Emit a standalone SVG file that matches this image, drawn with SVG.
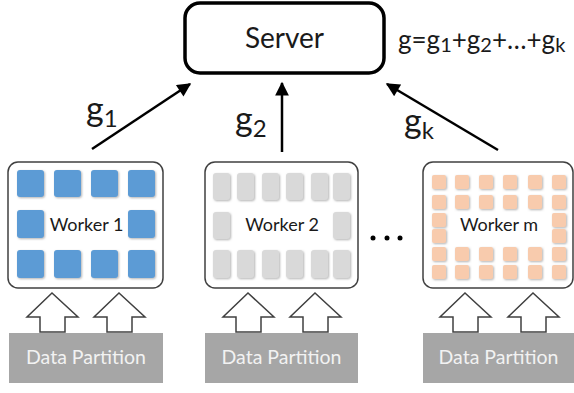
<svg xmlns="http://www.w3.org/2000/svg" width="574" height="393" viewBox="0 0 574 393">
<defs>
<style>
.txt{font-family:Lato,"Open Sans","Liberation Sans",sans-serif;fill:#1a1a1a}
.worker{fill:#fff;stroke:#404040;stroke-width:1.5}
.blue{fill:#5b9bd5}
.gray{fill:#d9d9d9}
.peach{fill:#f8cbad}
.hollow{fill:#fff;stroke:#404040;stroke-width:1.5;stroke-linejoin:miter}
.part{fill:#a6a6a6}
.ptxt{font-family:Lato,"Open Sans","Liberation Sans",sans-serif;fill:#f2f2f2;font-size:19.5px;text-anchor:middle}
.conn{stroke:#000;stroke-width:2.5;fill:none}
</style>
<marker id="ah" viewBox="0 0 10 10" refX="9" refY="5" markerWidth="6" markerHeight="5.5" orient="auto" markerUnits="strokeWidth">
<path d="M0,0 L10,5 L0,10 z" fill="#000"/>
</marker>
<filter id="sh" x="-20%" y="-20%" width="140%" height="140%">
<feGaussianBlur in="SourceAlpha" stdDeviation="1"/>
<feOffset dx="0.5" dy="0.5" result="b"/>
<feFlood flood-color="#808080" flood-opacity="0.6"/>
<feComposite in2="b" operator="in"/>
<feMerge><feMergeNode/><feMergeNode in="SourceGraphic"/></feMerge>
</filter>
</defs>
<rect width="574" height="393" fill="#fff"/>

<g id="server">
<rect x="185" y="3" width="199" height="70" rx="15" fill="#fff" stroke="#000" stroke-width="3.5"/>
<text class="txt" x="284.5" y="48" font-size="28" text-anchor="middle">Server</text>
</g>

<g id="formula">
<text class="txt" x="398" y="49" font-size="26">g=g<tspan font-size="20" dy="3">1</tspan><tspan dy="-3">+g</tspan><tspan font-size="20" dy="3">2</tspan><tspan dy="-3">+…+g</tspan><tspan font-size="20" dy="3">k</tspan></text>
</g>

<g id="connectors">
<line class="conn" x1="92" y1="149" x2="190" y2="84" marker-end="url(#ah)"/>
<line class="conn" x1="282" y1="152" x2="282" y2="83" marker-end="url(#ah)"/>
<line class="conn" x1="498" y1="150" x2="387" y2="84" marker-end="url(#ah)"/>
<text class="txt" x="86" y="121" font-size="34">g<tspan font-size="24" dy="6">1</tspan></text>
<text class="txt" x="235" y="131" font-size="34">g<tspan font-size="24" dy="6">2</tspan></text>
<text class="txt" x="404" y="133" font-size="34">g<tspan font-size="24" dy="6">k</tspan></text>
</g>

<g id="worker1">
<rect class="worker" x="8" y="162" width="155" height="126" rx="10"/>
<g class="blue" filter="url(#sh)">
<rect x="17" y="170" width="27" height="27" rx="3"/><rect x="54" y="170" width="27" height="27" rx="3"/><rect x="91" y="170" width="27" height="27" rx="3"/><rect x="128" y="170" width="27" height="27" rx="3"/>
<rect x="17" y="210" width="27" height="28" rx="3"/><rect x="128" y="210" width="27" height="28" rx="3"/>
<rect x="17" y="250" width="27" height="28" rx="3"/><rect x="54" y="250" width="27" height="28" rx="3"/><rect x="91" y="250" width="27" height="28" rx="3"/><rect x="128" y="250" width="27" height="28" rx="3"/>
</g>
<text class="txt" x="86.5" y="231" font-size="18" text-anchor="middle">Worker 1</text>
</g>

<g id="worker2">
<rect class="worker" x="205" y="162" width="153" height="126" rx="10"/>
<g class="gray" filter="url(#sh)">
<rect x="213" y="173" width="17" height="27" rx="3"/><rect x="237" y="173" width="17" height="27" rx="3"/><rect x="262" y="173" width="17" height="27" rx="3"/><rect x="286" y="173" width="17" height="27" rx="3"/><rect x="311" y="173" width="17" height="27" rx="3"/><rect x="333" y="173" width="17" height="27" rx="3"/>
<rect x="213" y="212" width="17" height="27" rx="3"/><rect x="333" y="212" width="17" height="27" rx="3"/>
<rect x="213" y="250" width="17" height="28" rx="3"/><rect x="237" y="250" width="17" height="28" rx="3"/><rect x="262" y="250" width="17" height="28" rx="3"/><rect x="286" y="250" width="17" height="28" rx="3"/><rect x="311" y="250" width="17" height="28" rx="3"/><rect x="333" y="250" width="17" height="28" rx="3"/>
</g>
<text class="txt" x="282" y="231" font-size="18" text-anchor="middle">Worker 2</text>
</g>

<g id="dots" fill="#000">
<circle cx="373" cy="238" r="2.5"/><circle cx="387" cy="238" r="2.5"/><circle cx="400" cy="238" r="2.5"/>
</g>

<g id="workerm">
<rect class="worker" x="423" y="162" width="150" height="126" rx="10"/>
<g class="peach" filter="url(#sh)">
<rect x="432" y="175" width="14" height="14" rx="2"/><rect x="455" y="175" width="14" height="14" rx="2"/><rect x="479" y="175" width="14" height="14" rx="2"/><rect x="503" y="175" width="14" height="14" rx="2"/><rect x="528" y="175" width="14" height="14" rx="2"/><rect x="552" y="175" width="14" height="14" rx="2"/>
<rect x="432" y="195" width="14" height="14" rx="2"/><rect x="455" y="195" width="14" height="14" rx="2"/><rect x="479" y="195" width="14" height="14" rx="2"/><rect x="503" y="195" width="14" height="14" rx="2"/><rect x="528" y="195" width="14" height="14" rx="2"/><rect x="552" y="195" width="14" height="14" rx="2"/>
<rect x="432" y="213" width="14" height="14" rx="2"/><rect x="552" y="213" width="14" height="14" rx="2"/>
<rect x="432" y="229" width="14" height="14" rx="2"/><rect x="552" y="229" width="14" height="14" rx="2"/>
<rect x="432" y="247" width="14" height="14" rx="2"/><rect x="455" y="247" width="14" height="14" rx="2"/><rect x="479" y="247" width="14" height="14" rx="2"/><rect x="503" y="247" width="14" height="14" rx="2"/><rect x="528" y="247" width="14" height="14" rx="2"/><rect x="552" y="247" width="14" height="14" rx="2"/>
<rect x="432" y="265" width="14" height="14" rx="2"/><rect x="455" y="265" width="14" height="14" rx="2"/><rect x="479" y="265" width="14" height="14" rx="2"/><rect x="503" y="265" width="14" height="14" rx="2"/><rect x="528" y="265" width="14" height="14" rx="2"/><rect x="552" y="265" width="14" height="14" rx="2"/>
</g>
<text class="txt" x="499" y="231" font-size="18" text-anchor="middle">Worker m</text>
</g>

<g id="input-arrows">
<polygon class="hollow" points="52,293 78,317 65,317 65,332 40,332 40,317 27,317"/>
<polygon class="hollow" points="119,293 145,317 132,317 132,332 107,332 107,317 94,317"/>
<polygon class="hollow" points="248,293 274,317 261,317 261,332 236,332 236,317 223,317"/>
<polygon class="hollow" points="315,293 341,317 328,317 328,332 303,332 303,317 290,317"/>
<polygon class="hollow" points="465,293 491,317 478,317 478,332 453,332 453,317 440,317"/>
<polygon class="hollow" points="533,293 559,317 546,317 546,332 521,332 521,317 508,317"/>
</g>

<g id="partition1">
<rect class="part" x="9" y="333" width="154" height="50"/>
<text class="ptxt" x="86" y="364">Data Partition</text>
</g>
<g id="partition2">
<rect class="part" x="205" y="333" width="153" height="50"/>
<text class="ptxt" x="281.5" y="364">Data Partition</text>
</g>
<g id="partitionm">
<rect class="part" x="423" y="333" width="151" height="50"/>
<text class="ptxt" x="498.5" y="364">Data Partition</text>
</g>
</svg>
